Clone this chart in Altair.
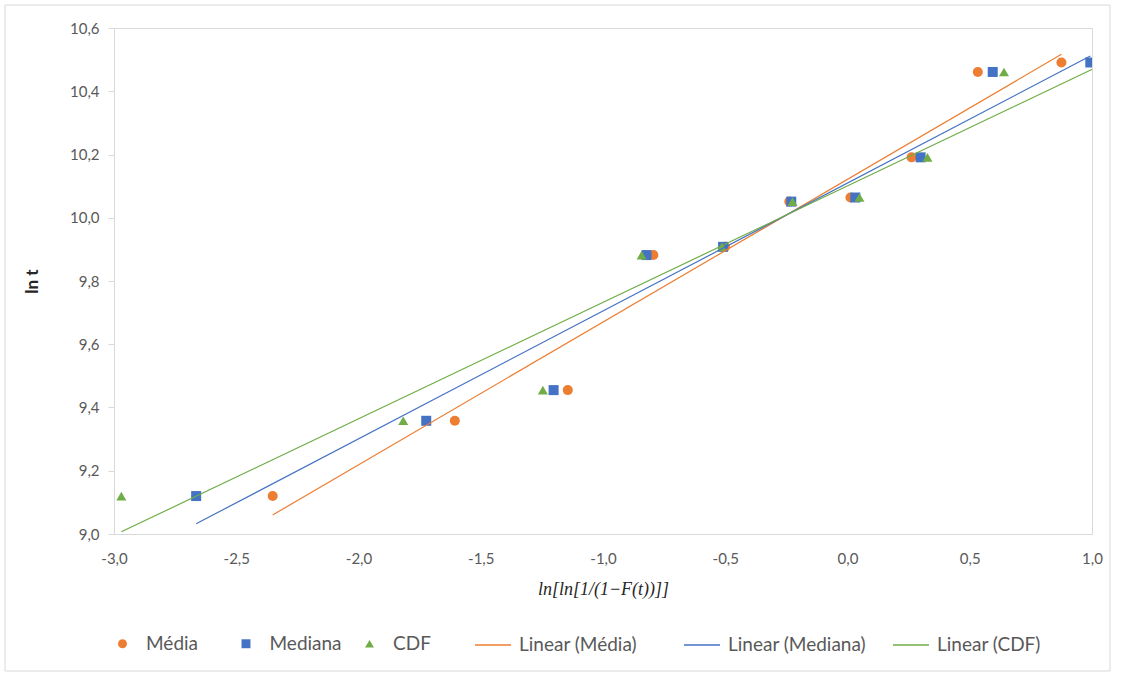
import altair as alt
import pandas as pd

# ---- data ----
ln_t = [9.12, 9.358, 9.455, 9.882, 9.908, 10.051, 10.064, 10.191, 10.461, 10.491]
x_media = [-2.351, -1.606, -1.144, -0.794, -0.501, -0.238, 0.012, 0.262, 0.533, 0.875]
x_mediana = [-2.664, -1.723, -1.202, -0.822, -0.509, -0.230, 0.032, 0.299, 0.594, 0.993]
# last CDF point lies just beyond the axis maximum (1,0) and is clipped
x_cdf = [-2.970, -1.817, -1.246, -0.842, -0.514, -0.225, 0.049, 0.327, 0.640, 1.097]

series_names = ["Média", "Mediana", "CDF"]
trend_names = ["Linear (Média)", "Linear (Mediana)", "Linear (CDF)"]
colors = ["#ED7D31", "#4472C4", "#70AD47"]
shapes = ["circle", "square", "triangle-up"]
x_ticks = [-3.0, -2.5, -2.0, -1.5, -1.0, -0.5, 0.0, 0.5, 1.0]
y_ticks = [9.0, 9.2, 9.4, 9.6, 9.8, 10.0, 10.2, 10.4, 10.6]

rows = []
for name, xs in zip(series_names, [x_media, x_mediana, x_cdf]):
    for xv, yv in zip(xs, ln_t):
        rows.append({"series": name, "x": xv, "y": yv})
df = pd.DataFrame(rows)

label_expr = "replace(replace(format(datum.value, '.1f'), '.', ','), '\u2212', '-')"

x_enc = alt.X(
    "x:Q",
    scale=alt.Scale(domain=[-3, 1], nice=False, zero=False),
    axis=alt.Axis(
        values=x_ticks, labelExpr=label_expr, ticks=False, grid=False,
        labelPadding=17, labelFlush=False,
        title="ln[ln[1/(1\u2212F(t))]]", titleFont="Liberation Serif",
        titleFontStyle="italic", titleFontWeight="normal", titleFontSize=18,
        titleColor="#262626", titlePadding=14,
    ),
)
y_enc = alt.Y(
    "y:Q",
    scale=alt.Scale(domain=[9.0, 10.6], nice=False, zero=False),
    axis=alt.Axis(
        values=y_ticks, labelExpr=label_expr, ticks=True, tickSize=6, grid=False,
        labelPadding=9, labelFlush=False,
        title="ln t", titleFont="Lato", titleFontWeight="bold", titleFontSize=17,
        titleColor="#262626", titlePadding=28,
    ),
)

pt_legend = alt.Legend(
    title=None, orient="none", legendX=-1, legendY=606,
    direction="horizontal", columns=3, gridAlign="all",
    columnPadding=17.5, symbolSize=80, labelOffset=14,
)

points = alt.Chart(df).mark_point(filled=True, opacity=1, size=100, clip=True).encode(
    x=x_enc,
    y=y_enc,
    fill=alt.Fill(
        "series:N",
        scale=alt.Scale(domain=series_names, range=colors),
        legend=pt_legend,
        title=None,
    ),
    shape=alt.Shape(
        "series:N",
        scale=alt.Scale(domain=series_names, range=shapes),
        legend=pt_legend,
        title=None,
    ),
)

lines = alt.Chart(df).transform_regression(
    "x", "y", groupby=["series"]
).transform_calculate(
    trend="'Linear (' + datum.series + ')'"
).mark_line(strokeWidth=1.2, clip=True).encode(
    x=x_enc,
    y=y_enc,
    stroke=alt.Stroke(
        "trend:N",
        scale=alt.Scale(domain=trend_names, range=colors),
        legend=alt.Legend(
            title=None, orient="none", legendX=360, legendY=598,
            direction="horizontal", columns=3, gridAlign="all",
            columnPadding=23, symbolSize=1296, symbolStrokeWidth=1.3,
            labelOffset=7, symbolType="stroke",
        ),
    ),
)

frame = alt.Chart(pd.DataFrame({"a": [0]})).mark_rect(
    fill="transparent", stroke="#d9d9d9", strokeWidth=1
).encode(
    x=alt.value(-109), x2=alt.value(996), y=alt.value(-23), y2=alt.value(643)
)

chart = alt.layer(frame, points, lines).properties(
    width=978,
    height=506,
    padding={"left": 114, "top": 28, "right": 30, "bottom": 139},
    autosize=alt.AutoSizeParams(type="none"),
    background="white",
).configure_view(
    stroke="#d9d9d9", strokeWidth=1
).configure_axis(
    labelFont="Lato", labelFontSize=15, labelColor="#595959",
    domainColor="#d9d9d9", tickColor="#d9d9d9",
).configure_legend(
    labelFont="Lato", labelFontSize=19, labelColor="#595959", labelLimit=300,
)

chart.save("out.html", embed_options={"renderer": "svg", "actions": False})
